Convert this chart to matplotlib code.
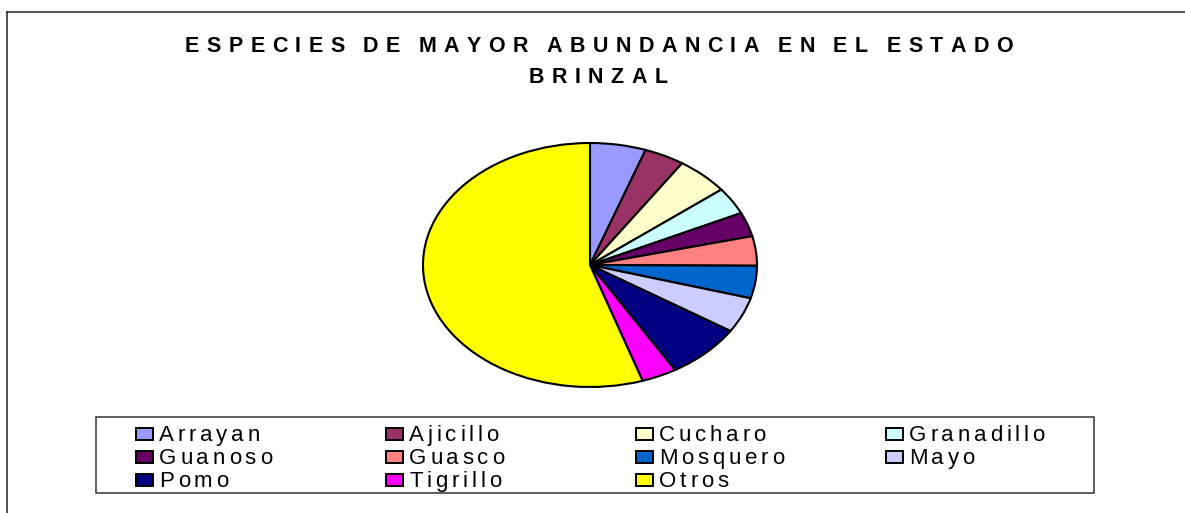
import matplotlib
matplotlib.use("Agg")
import matplotlib.pyplot as plt
from matplotlib.patches import Rectangle
from matplotlib.lines import Line2D
from matplotlib.font_manager import FontProperties, findfont, get_font

# ---- data ----
species = ["Arrayan", "Ajicillo", "Cucharo", "Granadillo", "Guanoso", "Guasco",
           "Mosquero", "Mayo", "Pomo", "Tigrillo", "Otros"]
percent = [5.4, 3.9, 5.1, 3.6, 3.2, 3.9, 4.3, 4.7, 7.4, 3.4, 55.1]
colors = ["#9999FF", "#993366", "#FFFFCC", "#CCFFFF", "#660066", "#FF8080",
          "#0066CC", "#CCCCFF", "#000080", "#FF00FF", "#FFFF00"]
title_lines = ["ESPECIES DE MAYOR ABUNDANCIA EN EL ESTADO", "BRINZAL"]

W, H = 1185, 513
DPI = 100
plt.rcParams['font.family'] = ['Liberation Sans', 'DejaVu Sans']
fig = plt.figure(figsize=(W / DPI, H / DPI), dpi=DPI)


def fx(px):
    return px / W


def fy(py):
    return 1 - py / H


def advances(s, size, weight):
    fp = FontProperties(family='Liberation Sans', weight=weight, size=size)
    font = get_font(findfont(fp))
    font.set_size(size, DPI)
    out = []
    for ch in s:
        g = font.load_char(ord(ch))
        out.append(g.linearHoriAdvance / 65536.0)
    return out


def tracked_text(s, x_px, ycap_center_px, size, weight, tracking, ha="left",
                 space_scale=1.0):
    adv = advances(s, size, weight)
    adv = [a * space_scale if ch == " " else a for ch, a in zip(s, adv)]
    total = sum(adv) + tracking * (len(s) - 1)
    x = x_px - total / 2 if ha == "center" else x_px
    cap = size * DPI / 72 * 0.716
    ybase = ycap_center_px + cap / 2
    for ch, a in zip(s, adv):
        if ch != " ":
            fig.text(fx(x), fy(ybase), ch, ha="left", va="baseline",
                     fontsize=size, fontweight=weight, family='Liberation Sans')
        x += a + tracking
    return total


def tracking_for(s, size, weight, target, space_scale=1.0):
    adv = advances(s, size, weight)
    adv = [a * space_scale if ch == " " else a for ch, a in zip(s, adv)]
    return (target - sum(adv)) / (len(s) - 1)


# outer chart border (top and left)
fig.add_artist(Line2D([fx(7), fx(7)], [0, fy(12)], color="#222222", lw=1.1))
fig.add_artist(Line2D([fx(7), 1], [fy(12), fy(12)], color="#222222", lw=1.1))

# title
tsize = 15.5
trk = tracking_for(title_lines[0], tsize, "bold", 1013 - 185, space_scale=0.6)
tracked_text(title_lines[0], 599, 44.5, tsize, "bold", trk, ha="center",
             space_scale=0.6)
tracked_text(title_lines[1], 598, 75, tsize, "bold", trk, ha="center",
             space_scale=0.6)

# pie (elliptical)
cx, cy, rx, ry = 590, 265, 167, 122
ax = fig.add_axes([fx(cx - rx), fy(cy + ry), 2 * rx / W, 2 * ry / H])
ax.pie(percent, colors=colors, startangle=90, counterclock=False,
       wedgeprops=dict(edgecolor="black", linewidth=1.5))
ax.set_aspect("auto")
ax.set_xlim(-1, 1)
ax.set_ylim(-1, 1)
ax.axis("off")

# legend box
fig.add_artist(Rectangle((fx(96), fy(493)), (1094 - 96) / W, (493 - 417) / H,
                         transform=fig.transFigure, facecolor="white",
                         edgecolor="#333333", lw=1.1))
col_x = [136, 386, 636, 886]
row_y = [433.5, 456.5, 479.5]
pw, ph = 17, 12
for i, (name, c) in enumerate(zip(species, colors)):
    x0 = col_x[i % 4]
    yc = row_y[i // 4]
    fig.add_artist(Rectangle((fx(x0), fy(yc + ph / 2)), pw / W, ph / H,
                             transform=fig.transFigure, facecolor=c,
                             edgecolor="black", lw=1.4))
    tracked_text(name, x0 + pw + 6, yc, 16, "normal", 3.8)

fig.savefig("out.png", dpi=DPI)
